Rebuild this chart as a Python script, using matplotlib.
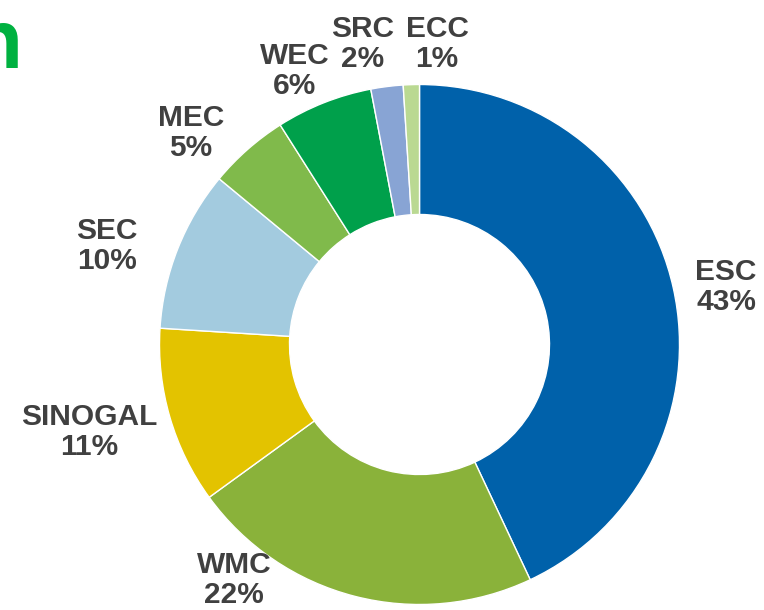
import matplotlib
matplotlib.use("Agg")
import matplotlib.pyplot as plt

categories = ["ESC", "WMC", "SINOGAL", "SEC", "MEC", "WEC", "SRC", "ECC"]
shares = [43, 22, 11, 10, 5, 6, 2, 1]
colors = ["#0061AA", "#8AB23A", "#E3C300", "#A3CBDF", "#80BA4B", "#00A04B", "#88A4D4", "#BAD992"]

# label block centres in pixel coordinates (layout only)
label_px = {
    "ESC": (726, 287), "WMC": (234, 580), "SINOGAL": (89, 432), "SEC": (107, 246),
    "MEC": (191, 133), "WEC": (295, 71), "SRC": (363, 44), "ECC": (437, 44),
}

W, H = 764, 610
cx, cy, R = 419.5, 344.5, 260.0

fig = plt.figure(figsize=(W / 100, H / 100), dpi=100)
ax = fig.add_axes([0, 0, 1, 1])
ax.pie(shares, startangle=90, counterclock=False, colors=colors, radius=1,
       wedgeprops=dict(width=0.5, edgecolor="white", linewidth=1.0))
ax.set_aspect("auto")
ax.set_xlim((0 - cx) / R, (W - cx) / R)
ax.set_ylim((cy - H) / R, cy / R)
ax.axis("off")

for cat, val in zip(categories, shares):
    px, py = label_px[cat]
    ax.text((px - cx) / R, (cy - py) / R, f"{cat}\n{val}%", ha="center", va="center",
            multialignment="center", fontsize=21.5, fontweight="bold",
            family="Liberation Sans", color="#404040", linespacing=1.1)

fig.text(22 / W, 1 - 68 / H, "n", ha="right", va="baseline", fontsize=60,
         fontweight="bold", family="Liberation Sans", color="#00B140")

fig.savefig("out.png", dpi=100)
